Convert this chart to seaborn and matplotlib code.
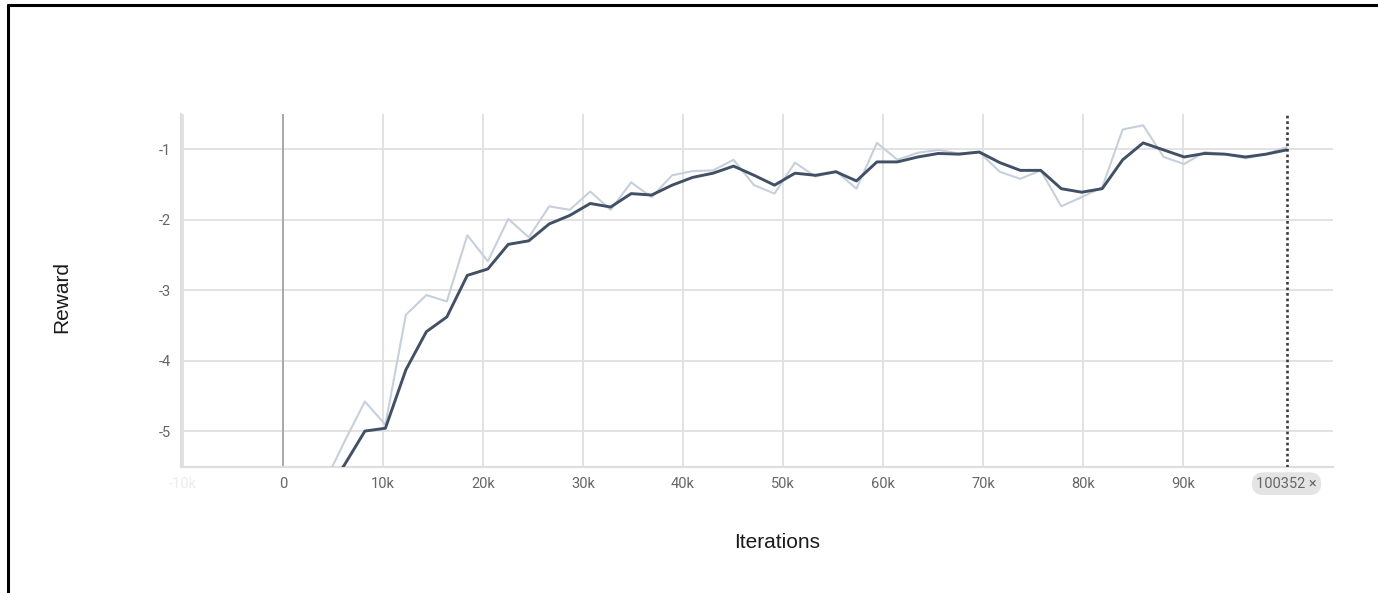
import numpy as np
import pandas as pd
import matplotlib
matplotlib.use("Agg")
import matplotlib.pyplot as plt
import seaborn as sns
from matplotlib.lines import Line2D

# ---- data ----
steps = [2048 * k for k in range(1, 50)]
raw_reward = [-6.3, -5.75, -5.15, -4.58, -4.91, -3.35, -3.07, -3.16, -2.22, -2.59,
              -1.99, -2.25, -1.81, -1.86, -1.60, -1.86, -1.47, -1.68, -1.37, -1.31,
              -1.30, -1.15, -1.51, -1.63, -1.19, -1.39, -1.31, -1.56, -0.91, -1.15,
              -1.05, -1.01, -1.06, -1.04, -1.32, -1.42, -1.30, -1.81, -1.68, -1.54,
              -0.72, -0.66, -1.11, -1.21, -1.04, -1.07, -1.13, -1.07, -0.97]
smooth_reward = [-6.6, -5.9, -5.48, -5.0, -4.96, -4.13, -3.59, -3.38, -2.79, -2.70,
                 -2.35, -2.30, -2.06, -1.94, -1.77, -1.82, -1.63, -1.65, -1.51, -1.40,
                 -1.34, -1.24, -1.37, -1.51, -1.34, -1.37, -1.32, -1.45, -1.18, -1.18,
                 -1.11, -1.06, -1.07, -1.04, -1.19, -1.30, -1.30, -1.56, -1.61, -1.56,
                 -1.15, -0.91, -1.01, -1.11, -1.06, -1.07, -1.11, -1.07, -1.01]
x_ticks = [-10000, 0, 10000, 20000, 30000, 40000, 50000, 60000, 70000, 80000, 90000]
x_tick_labels = ["-10k", "0", "10k", "20k", "30k", "40k", "50k", "60k", "70k", "80k", "90k"]
y_ticks = [-5, -4, -3, -2, -1]
y_tick_labels = ["-5", "-4", "-3", "-2", "-1"]
marker_step = 100352

df = pd.DataFrame({"Iterations": steps, "raw": raw_reward, "smooth": smooth_reward})

sns.set_theme(style="white")
plt.rcParams["font.family"] = ["Roboto", "DejaVu Sans"]

fig = plt.figure(figsize=(13.78, 5.93), dpi=100)
ax = fig.add_axes([181 / 1378, (593 - 467) / 593, (1333 - 181) / 1378, (467 - 114) / 593])

sns.lineplot(data=df, x="Iterations", y="raw", ax=ax, color="#c6d0dc", linewidth=1.5, zorder=3)
sns.lineplot(data=df, x="Iterations", y="smooth", ax=ax, color="#425066", linewidth=2.1, zorder=4)

ax.set_xlim(-10200, 105000)
ax.set_ylim(-5.51, -0.50)

ax.set_xticks(x_ticks)
ax.set_xticklabels(x_tick_labels)
ax.set_yticks(y_ticks)
ax.set_yticklabels(y_tick_labels)
ax.tick_params(axis="both", length=0, labelsize=10.5, colors="#666666")
ax.tick_params(axis="x", pad=7)
ax.tick_params(axis="y", pad=7)
ax.get_xticklabels()[0].set_color("#ececec")

ax.grid(True, color="#e2e2e2", linewidth=1.4)
ax.axvline(0, color="#9a9a9a", linewidth=1.1, zorder=2)

for side in ["top", "right"]:
    ax.spines[side].set_visible(False)
for side in ["left", "bottom"]:
    ax.spines[side].set_color("#dedede")
    ax.spines[side].set_linewidth(1.6)

ax.axvline(marker_step, color="#3a3a3a", linewidth=1.9, linestyle=(0, (1, 1.1)), zorder=5)

ax.set_xlabel("")
ax.set_ylabel("")
fig.text(777 / 1378, 1 - 542 / 593, "Iterations", ha="center", va="center",
         fontsize=15, family="Liberation Sans", color="#1a1a1a")
fig.text(62 / 1378, 1 - 297 / 593, "Reward", ha="center", va="center", rotation=90,
         fontsize=15, family="Liberation Sans", color="#1a1a1a")

ax.annotate(f"{marker_step} \u00d7", xy=(marker_step, 0), xycoords=("data", "axes fraction"),
            xytext=(0, -12), textcoords="offset points", ha="center", va="center",
            fontsize=10.5, color="#666666",
            bbox=dict(boxstyle="round,pad=0.3,rounding_size=0.8", fc="#e4e4e4", ec="none"),
            annotation_clip=False)

# figure frame (left and top edges)
fig.add_artist(Line2D([8 / 1378, 8 / 1378], [0, 1 - 5 / 593], color="black", linewidth=2.2,
                      transform=fig.transFigure))
fig.add_artist(Line2D([8 / 1378, 1], [1 - 5 / 593, 1 - 5 / 593], color="black", linewidth=2.2,
                      transform=fig.transFigure))

fig.savefig("out.png", dpi=100, facecolor="white")
